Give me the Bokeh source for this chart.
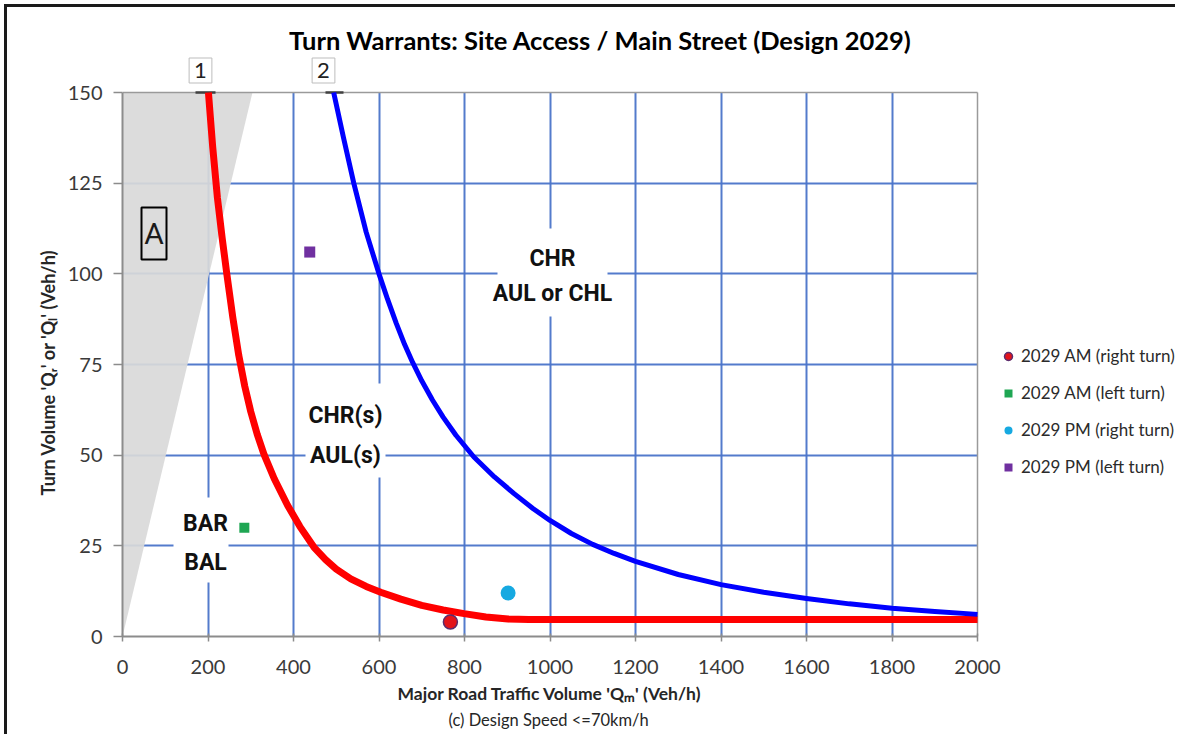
from bokeh.plotting import figure
from bokeh.models import (FixedTicker, Label, Legend, LegendItem, BoxAnnotation,
                          Title, Grid, Range1d)
from bokeh.embed import file_html
from bokeh.resources import INLINE

# ---------------- data ----------------
x_ticks = [0, 200, 400, 600, 800, 1000, 1200, 1400, 1600, 1800, 2000]
y_ticks = [0, 25, 50, 75, 100, 125, 150]

# boundary curve 1 (BAR/BAL  |  CHR(s)/AUL(s))
curve1_qm = [201, 211, 222, 233, 244, 258, 272, 286, 300, 315, 331, 355, 386, 415,
             448, 475, 500, 534, 570, 604, 651, 700, 750, 799, 850, 902, 950,
             1000, 1200, 1400, 1600, 1800, 2000]
curve1_q = [150, 135, 121, 110, 100, 88, 77.5, 69, 62, 55.8, 50.2, 43.5, 36.2, 30.3,
            24.6, 21.2, 18.6, 15.9, 13.8, 12.2, 10.3, 8.6, 7.3, 6.3, 5.4, 4.8, 4.7,
            4.7, 4.7, 4.7, 4.7, 4.7, 4.7]

# boundary curve 2 (CHR(s)/AUL(s)  |  CHR / AUL or CHL)
curve2_qm = [494, 517, 541, 570, 600, 620, 640, 660, 679, 700, 725, 750, 780, 822,
             870, 916, 960, 1000, 1050, 1100, 1150, 1200, 1300, 1400, 1500, 1600,
             1700, 1800, 1900, 2000]
curve2_q = [150, 137.5, 125, 111.5, 100, 93, 86.5, 80.5, 75.5, 70.5, 65.2, 60.5,
            55.5, 49.5, 44, 39.4, 35.3, 32, 28.4, 25.4, 22.9, 20.7, 17.1, 14.3,
            12.2, 10.5, 9.0, 7.8, 6.9, 6.1]

# zone A (shaded)
zone_a_qm = [0, 0, 304]
zone_a_q = [0, 150, 150]

series_names = ["2029 AM (right turn)", "2029 AM (left turn)",
                "2029 PM (right turn)", "2029 PM (left turn)"]
series_qm = [767, 285, 902, 438]
series_q = [4, 30, 12, 106]

title_text = "Turn Warrants: Site Access / Main Street (Design 2029)"
x_title = "Major Road Traffic Volume 'Q\u2098' (Veh/h)"
y_title = "Turn Volume 'Q\u1d63' or 'Q\u2097' (Veh/h)"
sub_title = "(c) Design Speed <=70km/h"

# ---------------- layout helpers (page pixel -> data) ----------------
# chart area of the reference: x 0..2000 at px 122..977, y 0..150 at px 636..92
FL, FR, FT, FB = 122, 977, 92, 636
PAGE_W, PAGE_H = 1178, 737
GAP = 4           # white space before the dark page frame line
EDGE = 3          # width of the dark page frame line (top and left)
OFF = GAP + EDGE


def X(px):
    return (px - FL) * 2000.0 / (FR - FL)


def Y(py):
    return (FB - py) * 150.0 / (FB - FT)


# the frame is extended up to the top and right page edges so that the title,
# curve numbers and legend can live inside it
p = figure(width=PAGE_W - OFF, height=PAGE_H - OFF,
           x_range=Range1d(0, X(PAGE_W)), y_range=Range1d(0, Y(OFF)),
           output_backend="svg", toolbar_location=None,
           min_border_left=FL - OFF, min_border_right=0, min_border_top=0,
           min_border_bottom=PAGE_H - FB,
           background_fill_color="white", border_fill_color="white",
           outline_line_color=None)
p.margin = (GAP, 0, 0, GAP)
p.styles = {"border-top": "%dpx solid #1a1a1a" % EDGE,
            "border-left": "%dpx solid #1a1a1a" % EDGE}

p.xaxis.ticker = FixedTicker(ticks=x_ticks)
p.yaxis.ticker = FixedTicker(ticks=y_ticks)
p.xaxis.bounds = (x_ticks[0], x_ticks[-1])
p.yaxis.bounds = (y_ticks[0], y_ticks[-1])
p.axis.minor_tick_line_color = None
p.axis.axis_line_color = "#8c8c8c"
p.axis.axis_line_width = 2
p.axis.major_tick_line_color = "#8c8c8c"
p.axis.major_tick_line_width = 1.5
p.xaxis.major_tick_out = 5
p.xaxis.major_tick_in = 3
p.yaxis.major_tick_out = 9
p.yaxis.major_tick_in = 0
p.axis.major_label_text_font = "Lato"
p.axis.major_label_text_font_size = "20px"
p.axis.major_label_text_color = "#3a3a3a"
p.xaxis.major_label_standoff = 18
p.yaxis.major_label_standoff = 11

grid_color = "#4a74c9"
inner_x = x_ticks[1:-1]
inner_y = y_ticks[1:-1]
if "cross_bounds" in Grid.properties():
    p.xgrid.ticker = FixedTicker(ticks=inner_x)
    p.ygrid.ticker = FixedTicker(ticks=inner_y)
    p.xgrid.cross_bounds = (y_ticks[0], y_ticks[-1])
    p.ygrid.cross_bounds = (x_ticks[0], x_ticks[-1])
    p.grid.grid_line_color = grid_color
    p.grid.grid_line_width = 2
    p.grid.grid_line_alpha = 0.95
else:
    p.grid.visible = False
    p.segment(x0=inner_x, y0=[y_ticks[0]] * len(inner_x), x1=inner_x,
              y1=[y_ticks[-1]] * len(inner_x), line_color=grid_color,
              line_width=2, line_alpha=0.95)
    p.segment(x0=[x_ticks[0]] * len(inner_y), y0=inner_y,
              x1=[x_ticks[-1]] * len(inner_y), y1=inner_y, line_color=grid_color,
              line_width=2, line_alpha=0.95)

# axis titles (as side titles so they can be positioned along the chart area)
axis_title = dict(text_font="Lato", text_font_style="bold", text_color="#262626",
                  align="left")
p.add_layout(Title(text=x_title, offset=397 - FL, standoff=8,
                   text_font_size="17.5px", **axis_title), "below")
p.add_layout(Title(text=sub_title, align="left", offset=448 - FL, standoff=0,
                   text_font="Lato", text_font_size="16.5px", text_font_style="normal",
                   text_color="#262626"), "below")
p.add_layout(Title(text=y_title, offset=FB - 495, standoff=12,
                   text_font_size="18px", **axis_title), "left")

# shaded zone A
p.patch(zone_a_qm, zone_a_q, fill_color="#d9d9d9", fill_alpha=0.92, line_color=None)

# top and right edges of the chart area
p.segment(x0=[x_ticks[0], x_ticks[-1]], y0=[y_ticks[-1], y_ticks[0]],
          x1=[x_ticks[-1], x_ticks[-1]], y1=[y_ticks[-1], y_ticks[-1]],
          line_color="#9a9a9a", line_width=1.5)

# short dark marks where the curve numbers point at the top edge
p.segment(x0=[X(195), X(325)], y0=[y_ticks[-1]] * 2, x1=[X(215), X(343)],
          y1=[y_ticks[-1]] * 2, line_color="#404040", line_width=2.5)

# white backgrounds behind region labels
p.quad(left=[X(497), X(305), X(173)], right=[X(607), X(385), X(228)],
       top=[Y(228), Y(383), Y(497)], bottom=[Y(316), Y(477), Y(582)],
       fill_color="white", line_color=None)

# boundary curves
p.line(curve1_qm, curve1_q, line_color="#ff0000", line_width=7, line_join="round")
p.line(curve2_qm, curve2_q, line_color="#0000ff", line_width=5, line_join="round")

# data points
r1 = p.scatter([series_qm[0]], [series_q[0]], marker="circle", size=14,
               fill_color="#e3141b", line_color="#5b2d6e", line_width=1.5)
r2 = p.scatter([series_qm[1]], [series_q[1]], marker="square", size=10,
               fill_color="#1fa653", line_color=None)
r3 = p.scatter([series_qm[2]], [series_q[2]], marker="circle", size=15,
               fill_color="#16a9e1", line_color=None)
r4 = p.scatter([series_qm[3]], [series_q[3]], marker="square", size=11,
               fill_color="#7030a0", line_color=None)

legend = Legend(items=[LegendItem(label=series_names[i], renderers=[r])
                       for i, r in enumerate([r1, r2, r3, r4])],
                location=(998 - FL, FB - 477), orientation="vertical",
                border_line_color=None, background_fill_alpha=0,
                padding=0, margin=0, glyph_width=20, glyph_height=20,
                label_height=20, spacing=16, label_standoff=3,
                label_text_font="Lato", label_text_font_size="17px",
                label_text_color="#2b2b2b")
p.add_layout(legend, "center")

# "A" box inside the chart
p.add_layout(BoxAnnotation(left=X(141), right=X(166), top=Y(207), bottom=Y(259),
                           fill_alpha=0, line_color="black", line_alpha=1,
                           line_width=2))


def lab(px, py, text, **kw):
    opts = dict(text_align="center", text_baseline="middle", text_font="Lato",
                text_color="black")
    opts.update(kw)
    p.add_layout(Label(x=X(px), y=Y(py), text=text, **opts))


# title
lab(600, 39, title_text, text_font_size="25.5px", text_font_style="bold")

# curve numbers
for px, t in [(200, "1"), (323, "2")]:
    lab(px, 70, t, text_font_size="22px", text_color="#222222",
        border_line_color="#bdbdbd", border_line_width=1,
        background_fill_color="white", padding=5)

# zone A
lab(153.5, 233, "A", text_font="Roboto", text_font_size="30px", text_color="#1a1a1a")

# region labels
region = dict(text_font="Roboto", text_font_style="bold",
              text_font_size="23px", text_color="#111111")
lab(552, 258, "CHR", **region)
lab(552, 293, "AUL or CHL", **region)
lab(345, 415, "CHR(s)", **region)
lab(345, 455, "AUL(s)", **region)
lab(205, 523, "BAR", **region)
lab(205, 562, "BAL", **region)

open("out.html", "w").write(file_html(p, INLINE))
